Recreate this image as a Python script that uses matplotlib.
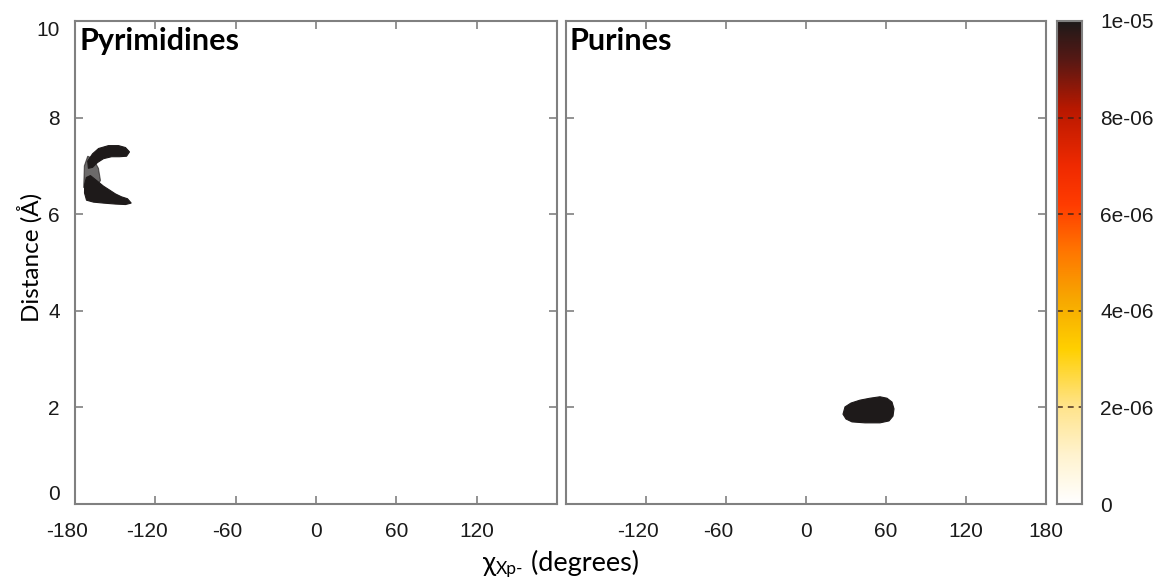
import matplotlib
matplotlib.use('Agg')
import matplotlib.pyplot as plt
import numpy as np
from matplotlib.colors import LinearSegmentedColormap, Normalize
from matplotlib.transforms import ScaledTranslation

plt.rcParams['axes.unicode_minus'] = False

# ---- data ----
panel_titles = ['Pyrimidines', 'Purines']
x_ticks = [-180, -120, -60, 0, 60, 120, 180]
y_ticks = [0, 2, 4, 6, 8, 10]
cb_ticks = [0, 2e-06, 4e-06, 6e-06, 8e-06, 1e-05]
cb_ticklabels = ['0', '2e-06', '4e-06', '6e-06', '8e-06', '1e-05']
z_max = 1e-05

# Pyrimidines: dense upper arm (chi, distance)
pyr_upper_x = [-170.5, -166.9, -162.4, -155.0, -147.5, -142.3, -139.3,
               -141.5, -146.8, -152.7, -158.7, -163.2, -166.9, -170.0]
pyr_upper_y = [7.10, 7.25, 7.36, 7.42, 7.42, 7.38, 7.29,
               7.20, 7.19, 7.19, 7.15, 7.07, 6.97, 6.95]
# Pyrimidines: dense lower lobe
pyr_lower_x = [-171.5, -168.5, -164.0, -158.7, -154.2, -149.8, -145.3, -140.8,
               -138.0, -142.3, -149.8, -158.7, -166.2, -171.4, -172.9, -172.8]
pyr_lower_y = [6.76, 6.80, 6.70, 6.58, 6.50, 6.42, 6.36, 6.32,
               6.23, 6.20, 6.21, 6.23, 6.25, 6.29, 6.44, 6.62]
# Pyrimidines: sparse part joining the two
pyr_sparse_x = [-173.5, -173.0, -170.5, -166.5, -162.5, -161.0, -163.0, -166.0]
pyr_sparse_y = [6.55, 7.00, 7.20, 7.15, 6.95, 6.70, 6.60, 6.62]
# Purines: single dense cloud
pur_x = [27.75, 29.25, 33.75, 40.5, 48.0, 55.5, 60.75, 64.5, 66.0,
         65.25, 62.25, 55.5, 44.25, 34.5, 30.0]
pur_y = [1.86, 2.01, 2.09, 2.15, 2.19, 2.22, 2.19, 2.11, 1.97,
         1.82, 1.72, 1.68, 1.68, 1.70, 1.76]

clouds = [
    [(pyr_sparse_x, pyr_sparse_y, 0.65), (pyr_upper_x, pyr_upper_y, 1.0),
     (pyr_lower_x, pyr_lower_y, 1.0)],
    [(pur_x, pur_y, 1.0)],
]

# ---- colour map (gnuplot-like heat) ----
cmap = LinearSegmentedColormap.from_list('heat', [
    (0.00, '#ffffff'), (0.10, '#fff3cf'), (0.20, '#ffe48c'), (0.32, '#ffd000'),
    (0.42, '#f7a900'), (0.52, '#ff7800'), (0.62, '#ff3c00'), (0.70, '#f02a00'),
    (0.82, '#b81800'), (0.92, '#581814'), (1.00, '#1e1a1a')])
norm = Normalize(0, z_max)

GRAY = '#808080'
TICKFONT = dict(family='Liberation Sans', size=15, color='#1a1a1a')
LABFAM = ['Lato', 'DejaVu Sans']

fig = plt.figure(figsize=(11.59, 5.79), dpi=100)
fig.patch.set_facecolor('white')

W, H = 1159.0, 579.0
bot = 1 - 504 / H
hgt = (504 - 21) / H
ax_l = fig.add_axes([75 / W, bot, 482 / W, hgt])
ax_r = fig.add_axes([566 / W, bot, 480 / W, hgt])
cax = fig.add_axes([1057 / W, bot, 25 / W, hgt])

shift = ScaledTranslation(-8 / 100, 0, fig.dpi_scale_trans)
title_x = [79, 569]

for i, ax in enumerate([ax_l, ax_r]):
    ax.set_xlim(-180, 180)
    ax.set_ylim(0, 10)
    for poly_x, poly_y, a in clouds[i]:
        ax.fill(poly_x, poly_y, color=cmap(norm(z_max)), alpha=a, lw=0.8)
    for s in ax.spines.values():
        s.set_color(GRAY)
        s.set_linewidth(1.5)
    ax.tick_params(direction='in', length=6, width=1.2, color=GRAY,
                   top=True, right=True)
    ax.tick_params(axis='x', pad=13)
    ax.tick_params(axis='y', pad=11)
    ax.set_xticks(x_ticks)
    ax.set_yticks(y_ticks)
    if i == 0:
        xl = [str(v) for v in x_ticks[:-1]] + ['']
        ax.set_yticklabels([str(v) for v in y_ticks], **TICKFONT)
        ylabs = ax.get_yticklabels()
        ylabs[0].set_va('bottom')
        ylabs[-1].set_va('top')
    else:
        xl = [''] + [str(v) for v in x_ticks[1:]]
        ax.set_yticklabels([])
    ax.set_xticklabels(xl, **TICKFONT)
    for lab, v in zip(ax.get_xticklabels(), x_ticks):
        if v < 0:
            lab.set_transform(lab.get_transform() + shift)
    fig.text(title_x[i] / W, 1 - 50 / H, panel_titles[i], ha='left',
             va='baseline', fontsize=22, fontweight='bold', family=LABFAM,
             color='black')

fig.text(30 / W, 1 - 257 / H, 'Distance (Å)', rotation=90, ha='center',
         va='center', family=LABFAM, fontsize=17.5)

# x label: chi with subscript Xp-
r = fig.canvas.get_renderer()
base = 571
parts = [('χ', 19.5, 0), ('Xp-', 12.5, 3), (' (degrees)', 19.5, 0)]
texts = []
xpos = 0.0
for s, fs, drop in parts:
    t = fig.text(0, 1 - (base + drop) / H, s, fontsize=fs, family=LABFAM,
                 ha='left', va='baseline')
    w = t.get_window_extent(r).width
    texts.append((t, xpos))
    xpos += w
start = 561 - xpos / 2
for t, off in texts:
    t.set_x((start + off) / W)

# colour bar
grad = np.linspace(0, z_max, 256).reshape(-1, 1)
cax.imshow(grad, cmap=cmap, norm=norm, aspect='auto', origin='lower',
           extent=[0, 1, 0, z_max])
cax.set_xlim(0, 1)
cax.set_ylim(0, z_max)
cax.set_xticks([])
cax.set_yticks(cb_ticks)
cax.yaxis.tick_right()
cax.set_yticklabels(cb_ticklabels, **TICKFONT)
cax.tick_params(axis='y', length=0, pad=13)
for v in cb_ticks[1:-1]:
    cax.axhline(v, color='#3a2018', lw=1.2, ls=(0, (3.5, 3)), alpha=0.85)
for s in cax.spines.values():
    s.set_color(GRAY)
    s.set_linewidth(1.5)

fig.savefig('out.png', dpi=100, facecolor='white')
